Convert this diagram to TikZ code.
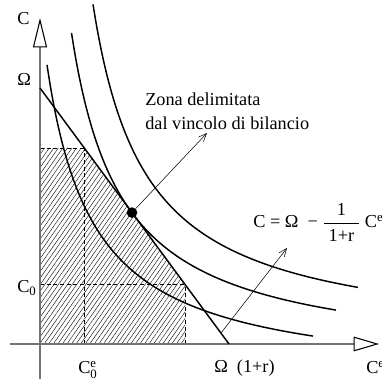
\documentclass[tikz,border=0pt]{standalone}
\usepackage{amsmath}
\usepackage{fontspec}
\setmainfont{Liberation Serif}
\usetikzlibrary{arrows.meta,patterns.meta}

\begin{document}
\begin{tikzpicture}[x=7.5pt,y=7.5pt,
  axis/.style={draw=black!55,line width=0.8pt},
  curve/.style={line width=1.1pt},
  guide/.style={dash pattern=on 3pt off 2pt,line width=0.5pt},
  pointer/.style={-{Straight Barb[length=6pt,width=5pt]},line width=0.4pt},
  lab/.style={inner sep=0pt,anchor=base west},
  every node/.style={font=\fontsize{13.7}{18}\selectfont}]
  \useasboundingbox (-4,-3.7) rectangle (34.2,34.4);
  \coordinate (O) at (0,0);
  \coordinate (Om) at (0,25.6);
  \coordinate (Omr) at (18.9,0);
  \coordinate (zonatip) at (16.7,21.1);
  \coordinate (budgetfoot) at (18.1,1.1);
  \coordinate (budgettip) at (24.7,9.6);

  % zona ammissibile
  \fill[pattern={Lines[angle=55,distance=2.8pt,line width=0.3pt]}]
    (0,0) -- (0,19.6) -- (4.4,19.6) -- (14.5,5.96) -- (14.5,0) -- cycle;
  \draw[guide] (0,19.6) -- (4.4,19.6);
  \draw[guide] (4.4,0) -- (4.4,19.6);
  \draw[guide] (0,5.96) -- (14.5,5.96);
  \draw[guide] (14.5,0) -- (14.5,5.96);

  \draw[axis,-{Triangle[open,length=22pt,width=10.5pt,color=black,line width=0.8pt]}] (0,-3.5) -- (0,32.6);
  \draw[axis,-{Triangle[open,length=19pt,width=11pt,color=black,line width=0.8pt]}] (-3,0) -- (33.9,0);

  % curve di indifferenza
  \draw[curve] plot[domain=0.7:27.3,samples=80,smooth] (\x,{150/(\x+4)-4});
  \draw[curve] plot[domain=3.15:29.6,samples=80,smooth] (\x,{166.68/(\x+1.9)-1.9});
  \draw[curve] plot[domain=5.3:31.8,samples=80,smooth] (\x,{180/\x});

  \draw[curve] (Om) -- (Omr);
  \node[circle,fill=black,inner sep=0pt,minimum size=8pt] (dot) at (9.2,13.14) {};

  \node[lab] (cy) at (-2.3,31.9) {C};
  \node[lab] (omega) at (-2.3,25.8) {Ω};
  \node[lab] (czero) at (-2.3,5.1) {C$_{\text{0}}$};
  \node[lab] (cezero) at (3.8,-3.0) {C$^{\text{e}}_{\text{0}}$};
  \node[lab] (omr) at (17.4,-2.9) {Ω\ \ (1+r)};
  \node[lab] (ce) at (32.6,-3.0) {C$^{\text{e}}$};
  \node[inner sep=0pt,anchor=north west,align=left] (zona) at (10.5,25.1)
    {Zona delimitata\\dal vincolo di bilancio};
  \node[lab] (budget) at (21.3,11.6)
    {C = Ω\ \ − $\dfrac{\text{1}}{\text{\ 1+r\ }}$ C$^{\text{e}}$};

  \draw[pointer] (dot) -- (zonatip);
  \draw[pointer] (budgetfoot) -- (budgettip);
\end{tikzpicture}
\end{document}
